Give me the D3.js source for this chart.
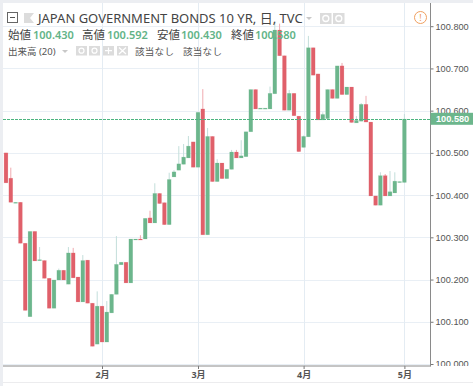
<!DOCTYPE html>
<html lang="ja">

<head>
   <meta charset="UTF-8">
   <title>JGB 10 YR</title>
   <script src="https://d3js.org/d3.v7.min.js"></script>
   <style>
      html, body { margin: 0; padding: 0; background: #fff; overflow: hidden; }
      text { font-family: "Noto Sans", "Noto Sans CJK JP", sans-serif; }
      .price text { font-family: "Liberation Sans", sans-serif; font-size: 9.2px; fill: #555; }
   </style>
</head>

<body>
   <script>
      const opens = [
         100.500, 100.440, 100.381, 100.383, 100.286, 100.112, 100.314, 100.245, 100.245, 100.203,
         100.132, 100.199, 100.222, 100.189, 100.263, 100.206, 100.147, 100.246, 100.144, 100.047,
         100.137, 100.052, 100.121, 100.165, 100.235, 100.241, 100.192, 100.294, 100.296, 100.296,
         100.346, 100.334, 100.404, 100.382, 100.330, 100.443, 100.459, 100.473, 100.488, 100.526,
         100.466, 100.604, 100.306, 100.539, 100.432, 100.476, 100.439, 100.461, 100.502, 100.488,
         100.491, 100.550, 100.650, 100.604, 100.604, 100.604, 100.640, 100.791, 100.730, 100.601,
         100.641, 100.587, 100.513, 100.538, 100.749, 100.687, 100.578, 100.581, 100.650, 100.629,
         100.706, 100.638, 100.656, 100.571, 100.575, 100.615, 100.573, 100.398, 100.376, 100.446,
         100.398, 100.405, 100.430, 100.430];
      const closes = [
         100.429, 100.383, 100.383, 100.286, 100.127, 100.314, 100.244, 100.247, 100.203, 100.132,
         100.199, 100.222, 100.199, 100.263, 100.204, 100.147, 100.245, 100.144, 100.042, 100.137,
         100.052, 100.123, 100.165, 100.236, 100.241, 100.192, 100.296, 100.296, 100.294, 100.345,
         100.334, 100.404, 100.380, 100.330, 100.437, 100.455, 100.474, 100.490, 100.516, 100.466,
         100.596, 100.306, 100.539, 100.432, 100.476, 100.439, 100.461, 100.502, 100.488, 100.493,
         100.550, 100.650, 100.604, 100.606, 100.606, 100.641, 100.791, 100.730, 100.601, 100.641,
         100.588, 100.503, 100.539, 100.749, 100.684, 100.578, 100.591, 100.650, 100.629, 100.706,
         100.638, 100.656, 100.572, 100.577, 100.615, 100.573, 100.398, 100.376, 100.446, 100.398,
         100.408, 100.433, 100.432, 100.580];
      const highs = [
         100.500, 100.465, 100.383, 100.383, 100.286, 100.314, 100.314, 100.277, 100.245, 100.203,
         100.199, 100.226, 100.222, 100.277, 100.275, 100.206, 100.258, 100.246, 100.144, 100.172,
         100.137, 100.149, 100.165, 100.303, 100.241, 100.241, 100.296, 100.296, 100.305, 100.345,
         100.363, 100.428, 100.404, 100.382, 100.453, 100.459, 100.516, 100.521, 100.540, 100.526,
         100.596, 100.651, 100.559, 100.539, 100.485, 100.476, 100.461, 100.507, 100.507, 100.530,
         100.550, 100.650, 100.650, 100.606, 100.606, 100.657, 100.811, 100.806, 100.730, 100.649,
         100.641, 100.587, 100.541, 100.777, 100.749, 100.687, 100.596, 100.650, 100.650, 100.706,
         100.713, 100.656, 100.656, 100.587, 100.618, 100.635, 100.573, 100.398, 100.454, 100.450,
         100.457, 100.454, 100.432, 100.592];
      const lows = [
         100.429, 100.383, 100.381, 100.286, 100.127, 100.112, 100.244, 100.245, 100.203, 100.132,
         100.132, 100.199, 100.199, 100.189, 100.204, 100.147, 100.147, 100.144, 100.042, 100.047,
         100.052, 100.052, 100.121, 100.165, 100.235, 100.192, 100.192, 100.294, 100.294, 100.296,
         100.334, 100.334, 100.380, 100.330, 100.330, 100.443, 100.459, 100.473, 100.488, 100.466,
         100.466, 100.306, 100.306, 100.432, 100.432, 100.439, 100.439, 100.461, 100.488, 100.488,
         100.491, 100.550, 100.604, 100.604, 100.604, 100.604, 100.640, 100.730, 100.601, 100.601,
         100.588, 100.503, 100.513, 100.538, 100.684, 100.578, 100.578, 100.581, 100.629, 100.629,
         100.638, 100.638, 100.572, 100.571, 100.575, 100.573, 100.398, 100.376, 100.376, 100.398,
         100.398, 100.405, 100.430, 100.430];

      const priceTicks = [100.0, 100.1, 100.2, 100.3, 100.4, 100.5, 100.6, 100.7, 100.8];
      const monthBars = [20, 40, 62, 83];   // bar index where the month starts
      const monthLabels = ['2月', '3月', '4月', '5月'];
      const lastPrice = 100.580;
      const ohlcLabels = ['始値', '高値', '安値', '終値'];
      const ohlcValues = ['100.430', '100.592', '100.430', '100.580'];

      const red = '#e0606a', green = '#6cb68c';
      const axisRight = 430.5, axisBottom = 366;

      const x = d3.scaleLinear().domain([0, opens.length - 1]).range([6, 404.4]);
      const y = d3.scaleLinear().domain([100, 100.8]).range([364, 26.2]);

      const svg = d3.select('body').append('svg').attr('width', 473).attr('height', 386)
         .style('display', 'block');

      svg.append('rect').attr('width', 473).attr('height', 386).attr('fill', '#fff');

      // grey page edge on the top and left, line under the time axis
      svg.append('rect').attr('width', 473).attr('height', 3).attr('fill', '#eceef2');
      svg.append('rect').attr('width', 3).attr('height', 386).attr('fill', '#eceef2');
      svg.append('line').attr('x1', 3).attr('x2', 473).attr('y1', 382.5).attr('y2', 382.5).attr('stroke', '#ececee');

      const defs = svg.append('defs');
      defs.append('clipPath').attr('id', 'pane').append('rect')
         .attr('x', 3).attr('y', 3).attr('width', axisRight - 3).attr('height', axisBottom - 3);
      defs.append('clipPath').attr('id', 'scale').append('rect')
         .attr('x', axisRight).attr('y', 3).attr('width', 50).attr('height', axisBottom - 3);

      const pane = svg.append('g').attr('clip-path', 'url(#pane)');

      // grid
      pane.selectAll('.hgrid').data(priceTicks).enter().append('line')
         .attr('x1', 3).attr('x2', axisRight)
         .attr('y1', d => Math.round(y(d)) + 0.5).attr('y2', d => Math.round(y(d)) + 0.5)
         .attr('stroke', '#e9eff5');
      pane.selectAll('.vgrid').data(monthBars).enter().append('line')
         .attr('x1', d => Math.round(x(d)) + 0.5).attr('x2', d => Math.round(x(d)) + 0.5)
         .attr('y1', 3).attr('y2', axisBottom)
         .attr('stroke', '#e4ecf3');

      // candles
      const bars = pane.selectAll('.bar').data(opens).enter().append('g').attr('class', 'bar');

      bars.append('line')
         .attr('x1', (d, i) => x(i)).attr('x2', (d, i) => x(i))
         .attr('y1', (d, i) => y(highs[i])).attr('y2', (d, i) => y(lows[i]))
         .attr('stroke', (d, i) => closes[i] >= d ? '#c3dedb' : '#f0aab0')
         .attr('stroke-width', 1);

      bars.append('rect')
         .attr('x', (d, i) => x(i) - 1.9)
         .attr('width', 3.8)
         .attr('y', (d, i) => y(Math.max(d, closes[i])))
         .attr('height', (d, i) => Math.max(1, Math.abs(y(d) - y(closes[i]))))
         .attr('fill', (d, i) => closes[i] >= d ? green : red)
         .attr('stroke', (d, i) => closes[i] >= d ? green : red)
         .attr('stroke-opacity', 0.25)
         .attr('stroke-width', 0.6);

      // last price line
      pane.append('line')
         .attr('x1', 3).attr('x2', axisRight)
         .attr('y1', Math.round(y(lastPrice)) + 0.5).attr('y2', Math.round(y(lastPrice)) + 0.5)
         .attr('stroke', '#4db580').attr('stroke-dasharray', '3,1');

      // price axis
      const yAxis = svg.append('g').attr('clip-path', 'url(#scale)').append('g').attr('class', 'price')
         .attr('transform', `translate(${axisRight},0)`)
         .call(d3.axisRight(y).tickValues(priceTicks).tickFormat(d3.format('.3f')).tickSize(3).tickPadding(2));
      yAxis.select('.domain').remove();
      yAxis.selectAll('.tick line').attr('stroke', '#777');

      svg.append('line').attr('x1', axisRight).attr('x2', axisRight).attr('y1', 3).attr('y2', axisBottom + 0.5)
         .attr('stroke', '#8a8a8a');

      // time axis
      const xAxis = svg.append('g')
         .attr('transform', `translate(0,${axisBottom})`)
         .call(d3.axisBottom(x).tickValues(monthBars).tickFormat((d, i) => monthLabels[i]).tickSize(3).tickPadding(3));
      xAxis.select('.domain').remove();
      xAxis.selectAll('.tick line').attr('stroke', '#777');
      xAxis.selectAll('.tick text').attr('fill', '#555').attr('font-size', 9).attr('font-weight', 700);
      svg.append('line').attr('x1', 3).attr('x2', axisRight).attr('y1', axisBottom).attr('y2', axisBottom)
         .attr('stroke', '#8a8a8a');

      // last price label
      svg.append('rect').attr('x', axisRight).attr('y', y(lastPrice) - 6.3).attr('width', 43).attr('height', 12)
         .attr('fill', green);
      svg.append('text').attr('x', 436).attr('y', y(lastPrice) + 3.2)
         .attr('fill', '#fff').attr('font-size', 9.2).attr('font-weight', 700)
         .style('font-family', '"Liberation Sans", sans-serif')
         .text(d3.format('.3f')(lastPrice));

      // legend, first row
      const iconGrey = '#dcdcdc';
      svg.append('rect').attr('x', 7.5).attr('y', 12.5).attr('width', 10).attr('height', 10)
         .attr('fill', '#fff').attr('stroke', '#666');
      svg.append('line').attr('x1', 10).attr('x2', 15).attr('y1', 17.5).attr('y2', 17.5).attr('stroke', '#555');
      svg.append('path').attr('d', d3.line()([[24, 13], [34, 13], [30, 18], [34, 23], [24, 23]])).attr('fill', iconGrey);

      svg.append('text').attr('x', 38).attr('y', 23).attr('fill', '#444').attr('font-size', 13)
         .text('JAPAN GOVERNMENT BONDS 10 YR, 日, TVC');
      svg.append('path').attr('d', d3.line()([[306, 17], [312, 17], [309, 20]])).attr('fill', '#c8c8c8');

      const headIcons = [320, 333];
      svg.selectAll('.headIcon').data(headIcons).enter().append('rect')
         .attr('x', d => d).attr('y', 13).attr('width', 11.5).attr('height', 11).attr('fill', iconGrey);
      svg.selectAll('.headDot').data(headIcons).enter().append('circle')
         .attr('cx', d => d + 5.8).attr('cy', 18.5).attr('r', 3)
         .attr('fill', 'none').attr('stroke', '#fff').attr('stroke-width', 1.3);

      svg.append('circle').attr('cx', 420.5).attr('cy', 17.5).attr('r', 6)
         .attr('fill', 'none').attr('stroke', '#f0a060');
      svg.append('text').attr('x', 420.5).attr('y', 21).attr('text-anchor', 'middle')
         .attr('fill', '#ee9550').attr('font-size', 9).text('!');

      // legend, second row
      const labelX = [8, 82, 157, 231];
      const valueX = [33, 107, 181, 255];
      svg.selectAll('.ohlcLabel').data(ohlcLabels).enter().append('text')
         .attr('x', (d, i) => labelX[i]).attr('y', 39).attr('fill', '#444').attr('font-size', 11.5)
         .text(d => d);
      svg.selectAll('.ohlcValue').data(ohlcValues).enter().append('text')
         .attr('x', (d, i) => valueX[i]).attr('y', 39).attr('fill', '#62b387').attr('font-size', 11)
         .attr('font-weight', 600)
         .text(d => d);

      // legend, third row
      svg.append('text').attr('x', 8).attr('y', 55).attr('fill', '#555').attr('font-size', 9.5).text('出来高 (20)');
      svg.append('path').attr('d', d3.line()([[62, 50], [68, 50], [65, 53]])).attr('fill', '#c8c8c8');
      const studyIcons = [76, 89, 103, 117];
      svg.selectAll('.studyIcon').data(studyIcons).enter().append('rect')
         .attr('x', d => d).attr('y', 46).attr('width', 11).attr('height', 9.5).attr('fill', iconGrey);
      svg.selectAll('.studyDot').data(studyIcons.slice(0, 2)).enter().append('circle')
         .attr('cx', d => d + 5.5).attr('cy', 50.7).attr('r', 2.5)
         .attr('fill', 'none').attr('stroke', '#fff').attr('stroke-width', 1.2);
      svg.append('path').attr('d', 'M105 50.7H112M108.5 47.5V54M119 47.5L126 54M126 47.5L119 54')
         .attr('stroke', '#fff').attr('stroke-width', 1.2);

      const naX = [135, 183];
      svg.selectAll('.na').data(naX).enter().append('text')
         .attr('x', d => d).attr('y', 55).attr('fill', '#555').attr('font-size', 9.5)
         .attr('letter-spacing', '0.3px')
         .text('該当なし');
   </script>
</body>

</html>
